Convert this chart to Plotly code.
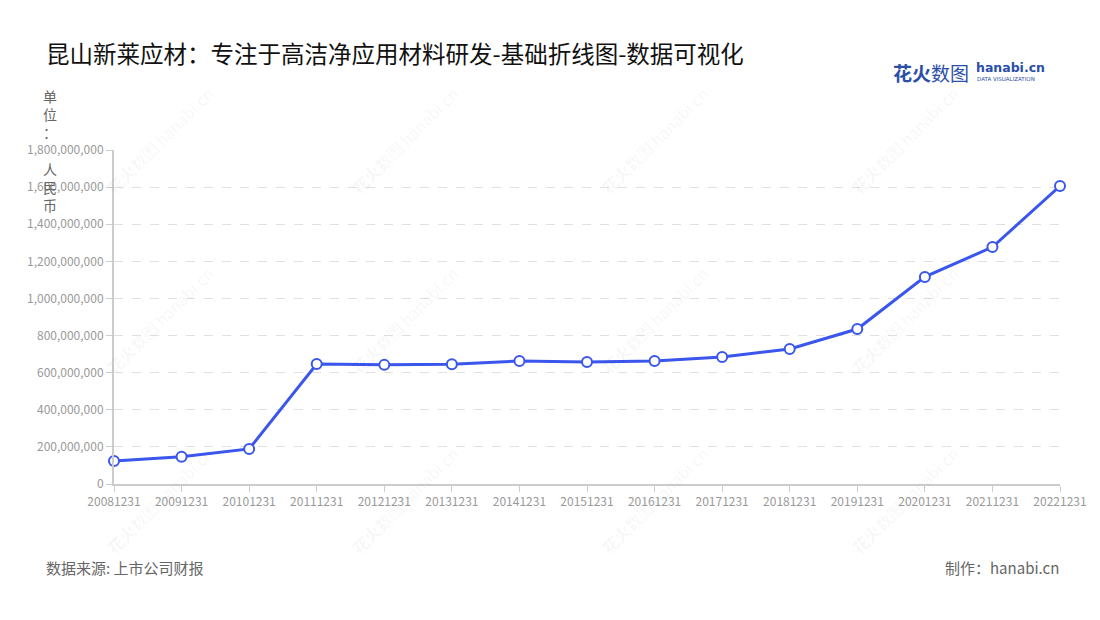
import plotly.graph_objects as go

periods = ["20081231", "20091231", "20101231", "20111231", "20121231", "20131231",
           "20141231", "20151231", "20161231", "20171231", "20181231", "20191231",
           "20201231", "20211231", "20221231"]
revenue = [124e6, 147e6, 189e6, 647e6, 642e6, 645e6, 663e6, 658e6, 663e6, 684e6,
           728e6, 835e6, 1116e6, 1277e6, 1606e6]
y_ticks = [0, 2e8, 4e8, 6e8, 8e8, 10e8, 12e8, 14e8, 16e8, 18e8]
y_labels = ["0", "200,000,000", "400,000,000", "600,000,000", "800,000,000",
            "1,000,000,000", "1,200,000,000", "1,400,000,000", "1,600,000,000",
            "1,800,000,000"]

FONT = "Noto Sans CJK SC, Noto Sans, sans-serif"
BLUE = "#3a56ec"
OFF = 8  # page body margin

PL, PR, PT, PB = 114, 1060, 150, 484
PW, PH = PR - PL, PB - PT


def px(x):
    return (x - PL) / PW


def py(y):
    return (PB - y) / PH


fig = go.Figure()
fig.add_trace(go.Scatter(
    x=list(range(len(periods))), y=revenue, mode="lines+markers",
    line=dict(color=BLUE, width=3),
    marker=dict(size=10, color="white", line=dict(color=BLUE, width=2)),
    hoverinfo="y", cliponaxis=False,
))

fig.update_layout(
    width=1100 - OFF, height=620 - OFF,
    margin=dict(l=PL - OFF, r=1100 - PR, t=PT - OFF, b=620 - PB, autoexpand=False),
    paper_bgcolor="white", plot_bgcolor="white",
    showlegend=False,
    font=dict(family=FONT, color="#999999", size=12),
    xaxis=dict(
        range=[0, len(periods) - 1], tickmode="array",
        tickvals=list(range(len(periods))), ticktext=periods,
        showgrid=False, zeroline=False, showline=True, linecolor="#cccccc", linewidth=2,
        ticks="outside", ticklen=6, tickcolor="#cccccc", tickwidth=1,
        tickfont=dict(size=12, color="#999999"),
    ),
    yaxis=dict(
        range=[0, 1.8e9], tickmode="array", tickvals=y_ticks, ticktext=y_labels,
        showgrid=True, gridcolor="#e0e0e0", griddash="dash", gridwidth=1,
        zeroline=False, showline=True, linecolor="#cccccc", linewidth=2,
        ticks="outside", ticklen=6, tickcolor="#cccccc",
        tickfont=dict(size=12, color="#999999"),
    ),
)

# Title
fig.add_annotation(text="昆山新莱应材：专注于高洁净应用材料研发-基础折线图-数据可视化",
                   xref="paper", yref="paper", x=px(44), y=py(53),
                   xanchor="left", yanchor="middle", showarrow=False,
                   font=dict(size=23.5, color="#111111", family=FONT))

# Y-axis unit label (vertical)
fig.add_annotation(text="单<br>位<br>：<br> <br>人<br>民<br>币",
                   xref="paper", yref="paper", x=px(50), y=py(84),
                   xanchor="center", yanchor="top", showarrow=False, align="center",
                   font=dict(size=14, color="#666666", family=FONT))

# Logo
fig.add_annotation(text="<b>花火</b>数图", xref="paper", yref="paper",
                   x=px(891), y=py(72), xanchor="left", yanchor="middle",
                   showarrow=False, font=dict(size=19, color="#2b4fa8", family=FONT))
fig.add_annotation(text="<b>hanabi.cn</b>", xref="paper", yref="paper",
                   x=px(974), y=py(67), xanchor="left", yanchor="middle",
                   showarrow=False, font=dict(size=12.5, color="#2b4fa8", family="DejaVu Sans"))
fig.add_annotation(text="DATA VISUALIZATION", xref="paper", yref="paper",
                   x=px(975), y=py(79), xanchor="left", yanchor="middle",
                   showarrow=False, font=dict(size=5.5, color="#2b4fa8", family="DejaVu Sans"))

# Footer
fig.add_annotation(text="数据来源: 上市公司财报", xref="paper", yref="paper",
                   x=px(44), y=py(567), xanchor="left", yanchor="middle",
                   showarrow=False, font=dict(size=15, color="#666666", family=FONT))
fig.add_annotation(text="制作：hanabi.cn", xref="paper", yref="paper",
                   x=px(1061), y=py(567), xanchor="right", yanchor="middle",
                   showarrow=False, font=dict(size=15, color="#666666", family=FONT))

# Watermarks
for wx in [160, 405, 655, 905]:
    for wy in [140, 320, 500]:
        fig.add_annotation(text="<b>花火</b>数图 hanabi.cn", xref="paper", yref="paper",
                           x=px(wx), y=py(wy),
                           xanchor="center", yanchor="middle", textangle=-45,
                           showarrow=False, font=dict(size=16, color="rgba(0,0,0,0.05)", family=FONT))

fig.write_html("out.html")
